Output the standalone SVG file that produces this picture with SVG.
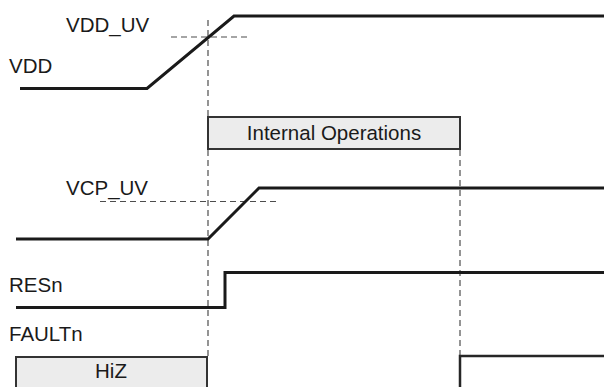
<svg xmlns="http://www.w3.org/2000/svg" width="604" height="387" viewBox="0 0 604 387">
<style>
.sig{fill:none;stroke:#1a1a1a;stroke-width:3;stroke-linejoin:miter}
.thr{fill:none;stroke:#4d4d4d;stroke-width:1.2;stroke-dasharray:6,4}
.box{fill:#ececec;stroke:#333;stroke-width:2}
.lbl{font-family:"Liberation Sans",Arial,sans-serif;font-size:20.5px;fill:#1a1a1a}
.mid{text-anchor:middle}
</style>
<rect width="604" height="387" fill="#fff"/>
<g id="connectors">
<line class="thr" x1="208" y1="20" x2="208" y2="356"/>
<line class="thr" x1="460" y1="150" x2="460" y2="355"/>
<line class="thr" x1="171" y1="37" x2="250" y2="37"/>
<line class="thr" x1="100" y1="201.5" x2="277" y2="201.5"/>
</g>
<g id="vdd">
<text class="lbl" x="9" y="73">VDD</text>
<text class="lbl" x="66" y="32">VDD_UV</text>
<polyline class="sig" points="20,88.5 147,88.5 234,16 604,16"/>
</g>
<g id="internal-operations">
<rect class="box" x="208" y="117" width="252" height="32"/>
<text class="lbl mid" x="334" y="140">Internal Operations</text>
</g>
<g id="vcp">
<text class="lbl" x="66" y="195">VCP_UV</text>
<polyline class="sig" points="16,239 208,239 259,188 604,188"/>
</g>
<g id="resn">
<text class="lbl" x="9" y="292">RESn</text>
<polyline class="sig" points="16,307.5 225,307.5 225,272.5 604,272.5"/>
</g>
<g id="faultn">
<text class="lbl" x="9" y="341">FAULTn</text>
<path class="box" d="M16,390 V357 H207 V390"/>
<text class="lbl mid" x="111" y="378">HiZ</text>
<polyline fill="none" stroke="#262626" stroke-width="2.5" points="460,390 460,356 604,356"/>
</g>
</svg>
